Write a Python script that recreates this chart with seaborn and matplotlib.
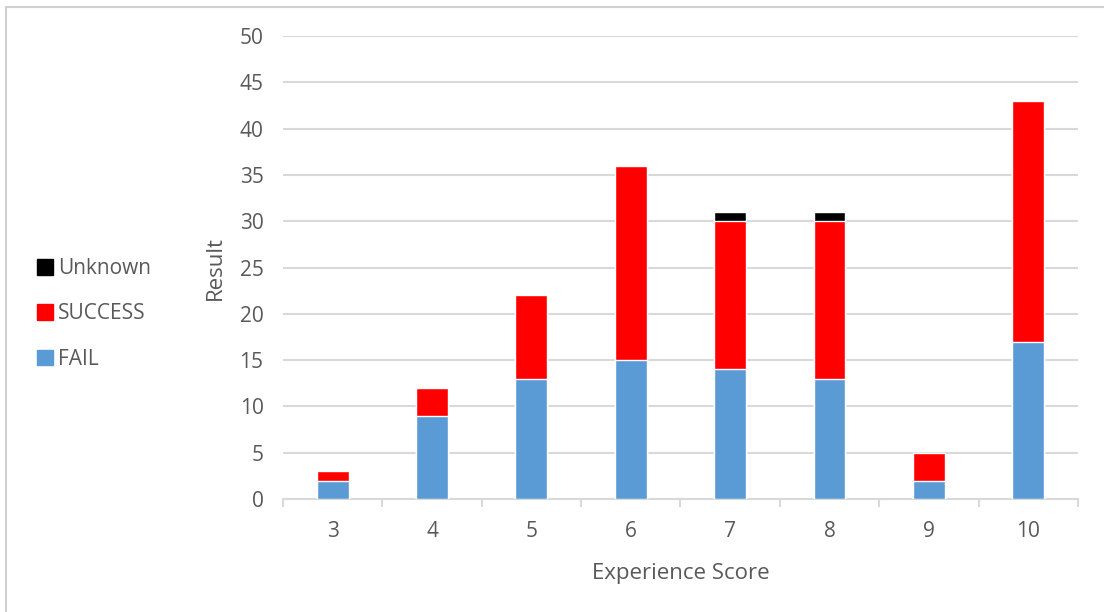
import numpy as np
import pandas as pd
import matplotlib.pyplot as plt
import seaborn as sns
from matplotlib.patches import Patch, Rectangle

# data
scores = ["3", "4", "5", "6", "7", "8", "9", "10"]
fail = [2, 9, 13, 15, 14, 13, 2, 17]
success = [1, 3, 9, 21, 16, 17, 3, 26]
unknown = [0, 0, 0, 0, 1, 1, 0, 0]

c_fail = "#5b9bd5"
c_success = "#ff0000"
c_unknown = "#000000"
grid_c = "#d9d9d9"
text_c = "#595959"

sns.set_theme(style="white")
plt.rcParams["font.family"] = ["Open Sans", "DejaVu Sans"]

df = pd.DataFrame({"score": scores, "fail": fail, "success": success, "unknown": unknown})
df["fs"] = df["fail"] + df["success"]
df["total"] = df["fs"] + df["unknown"]

fig = plt.figure(figsize=(11.04, 6.12), dpi=100)
ax = fig.add_axes([0.2563, 0.1846, 0.7201, 0.7564])

# stacked bars drawn as cumulative layers, tallest first
sns.barplot(data=df, x="score", y="total", color=c_unknown, width=0.32,
            saturation=1, ax=ax, zorder=3)
sns.barplot(data=df, x="score", y="fs", color=c_success, width=0.32,
            saturation=1, ax=ax, zorder=3)
sns.barplot(data=df, x="score", y="fail", color=c_fail, width=0.32,
            saturation=1, ax=ax, zorder=3)

ax.set_ylim(0, 50)
ax.set_xlim(-0.5, 7.5)
ax.set_yticks(np.arange(0, 51, 5))
ax.yaxis.grid(True, color=grid_c, linewidth=1.5, zorder=0)
ax.set_axisbelow(True)

for s in ["top", "right", "left"]:
    ax.spines[s].set_visible(False)
ax.spines["bottom"].set_color(grid_c)
ax.spines["bottom"].set_linewidth(1.5)

ax.tick_params(axis="y", length=0, labelsize=15, labelcolor=text_c, pad=14)
ax.tick_params(axis="x", which="major", length=0, labelsize=15, labelcolor=text_c, pad=16)
ax.set_xticks(np.arange(-0.5, 8, 1), minor=True)
ax.tick_params(axis="x", which="minor", length=6, width=1.5, color=grid_c, bottom=True)

ax.set_xlabel("Experience Score", fontsize=16, color=text_c, labelpad=15)
ax.set_ylabel("Result", fontsize=16, color=text_c, labelpad=10)

handles = [Patch(color=c_unknown, label="Unknown"),
           Patch(color=c_success, label="SUCCESS"),
           Patch(color=c_fail, label="FAIL")]
fig.legend(handles=handles, loc="center left", bbox_to_anchor=(0.0165, 0.487),
           frameon=False, fontsize=15, labelcolor=text_c, handlelength=0.77,
           handleheight=0.77, handletextpad=0.25, labelspacing=1.16)

fig.patches.append(Rectangle((0.005, -0.01), 1.1, 0.998, transform=fig.transFigure,
                             fill=False, edgecolor="#d0d0d0", linewidth=1.5))

fig.savefig("out.png", dpi=100)
